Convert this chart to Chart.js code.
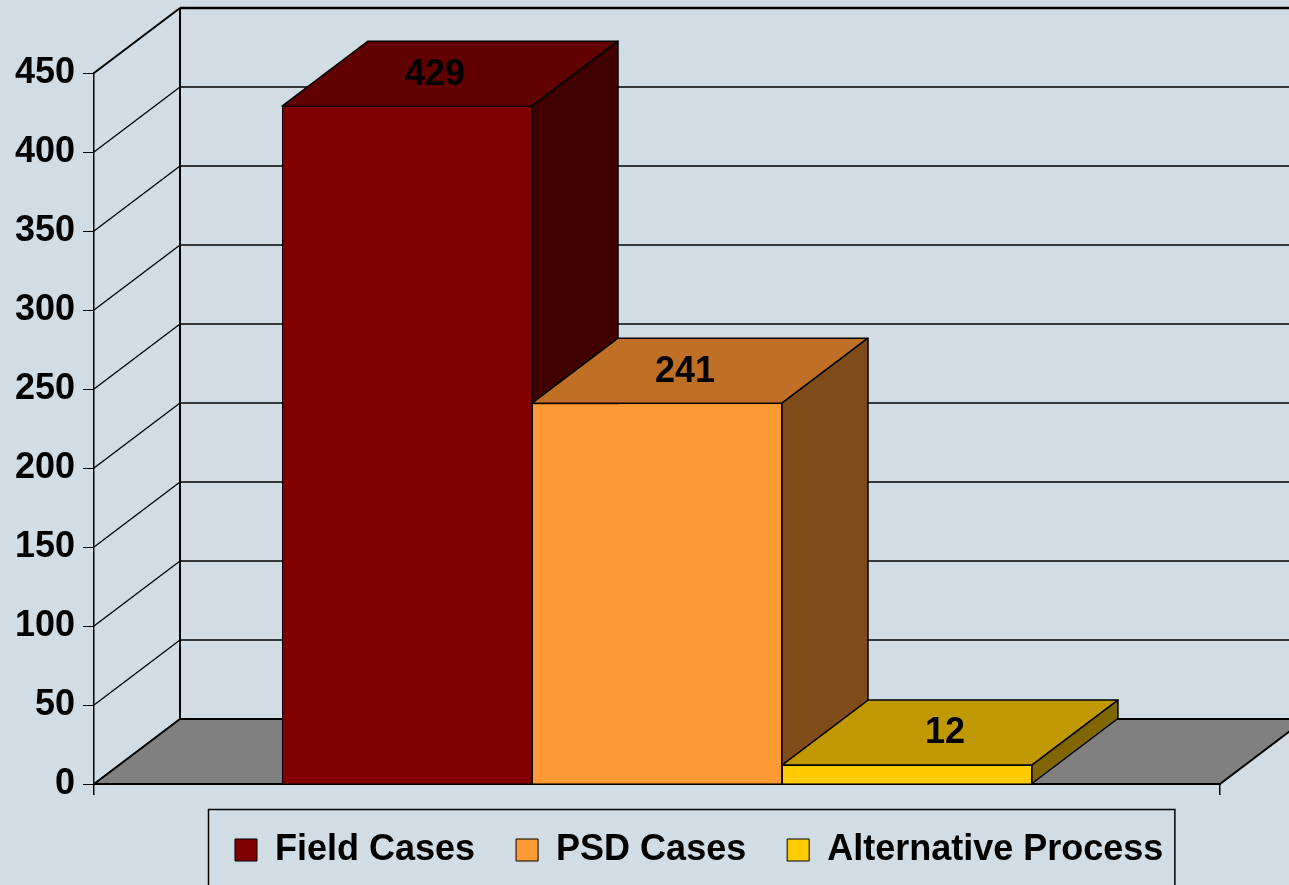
<!DOCTYPE html>
<html><head><meta charset="utf-8">
<script src="https://cdn.jsdelivr.net/npm/chart.js@4.4.1/dist/chart.umd.min.js"></script>
<style>
html,body{margin:0;padding:0;background:#D1DCE4;}
#wrap{width:1289px;height:885px;position:relative;}
</style></head><body>
<div id="wrap"><canvas id="c"></canvas></div>
<script>
const categories = [''];
const seriesNames = ['Field Cases', 'PSD Cases', 'Alternative Process'];
const fieldCases = [429];
const psdCases = [241];
const alternativeProcess = [12];
const yTicks = [0, 50, 100, 150, 200, 250, 300, 350, 400, 450];

const frontColors = ['#800000', '#FF9933', '#FFCC00'];
const topColors = ['#600000', '#C07026', '#C09900'];
const sideColors = ['#400000', '#804D1A', '#806600'];
const BG = '#D1DCE4';
const DX = 86, DY = -65;
const FONT = "'Liberation Sans', Arial, sans-serif";

function line(ctx, x1, y1, x2, y2) {
  ctx.beginPath(); ctx.moveTo(x1, y1); ctx.lineTo(x2, y2); ctx.stroke();
}
function poly(ctx, pts, fill, lw) {
  ctx.beginPath();
  pts.forEach((p, i) => i ? ctx.lineTo(p[0], p[1]) : ctx.moveTo(p[0], p[1]));
  ctx.closePath();
  ctx.fillStyle = fill; ctx.fill();
  ctx.lineWidth = lw; ctx.strokeStyle = '#000'; ctx.lineJoin = 'round'; ctx.stroke();
}

const threeD = {
  id: 'threeD',
  afterLayout(chart) {
    const lg = chart.legend;
    if (!lg || !lg.lineWidths) return;
    const pad = lg.options.labels.padding;
    const lw = lg.lineWidths[0];
    const x0 = (lg.left + pad + lg.right - lw) / 2;
    const sx = 235 - x0;
    lg.left += sx; lg.right += sx;
    const cy = lg.top + pad + 18;
    const sy = 850 - cy;
    lg.top += sy; lg.bottom += sy;
    lg._boxX0 = 235; lg._boxX1 = 235 + lw - pad;
  },
  beforeDraw(chart) {
    const ctx = chart.ctx;
    ctx.save(); ctx.fillStyle = BG; ctx.fillRect(0, 0, chart.width, chart.height); ctx.restore();
  },
  beforeDatasetsDraw(chart) {
    const { ctx, chartArea: a, scales: { y } } = chart;
    const top = yTicks[yTicks.length - 1];
    const y0 = y.getPixelForValue(0);
    ctx.save();
    ctx.strokeStyle = '#000';
    yTicks.forEach(v => {
      const py = y.getPixelForValue(v);
      ctx.lineWidth = v === top ? 2.5 : 1.5;
      line(ctx, a.left + DX, py + DY, a.right + DX, py + DY);
      ctx.lineWidth = v === top ? 2 : 1.3;
      line(ctx, a.left, py, a.left + DX, py + DY);
    });
    ctx.lineWidth = 2;
    line(ctx, a.left + DX, y.getPixelForValue(top) + DY, a.left + DX, y0 + DY);
    poly(ctx, [[a.left, y0], [a.left + DX, y0 + DY], [a.right + DX, y0 + DY], [a.right, y0]], '#808080', 2);
    ctx.restore();
  },
  afterDatasetsDraw(chart) {
    const ctx = chart.ctx;
    ctx.save();
    const labels = [];
    chart.data.datasets.forEach((ds, i) => {
      const meta = chart.getDatasetMeta(i);
      meta.data.forEach((bar, j) => {
        bar.draw(ctx);
        const p = bar.getProps(['x', 'y', 'base', 'width'], true);
        const l = p.x - p.width / 2, r = p.x + p.width / 2, t = p.y, b = p.base;
        poly(ctx, [[l, t], [l + DX, t + DY], [r + DX, t + DY], [r, t]], topColors[i], 1.5);
        poly(ctx, [[r, t], [r + DX, t + DY], [r + DX, b + DY], [r, b]], sideColors[i], 1.5);
        labels.push({ text: String(ds.data[j]), x: p.x + 58, y: t + DY / 2 + 1 });
      });
    });
    ctx.fillStyle = '#000';
    ctx.font = 'bold 36px ' + FONT;
    ctx.textAlign = 'right';
    ctx.textBaseline = 'middle';
    labels.forEach(L => ctx.fillText(L.text, L.x, L.y));
    ctx.restore();
  },
  afterDraw(chart) {
    const lg = chart.legend;
    if (!lg || lg._boxX0 === undefined) return;
    const ctx = chart.ctx;
    ctx.save();
    ctx.strokeStyle = '#000';
    ctx.lineWidth = 1.5;
    ctx.strokeRect(lg._boxX0 - 26.5, 809.5, (lg._boxX1 + 12) - (lg._boxX0 - 26), 120);
    ctx.restore();
  }
};

new Chart(document.getElementById('c'), {
  type: 'bar',
  data: {
    labels: categories,
    datasets: [
      { label: seriesNames[0], data: fieldCases, backgroundColor: frontColors[0], borderColor: '#000', borderWidth: 1 },
      { label: seriesNames[1], data: psdCases, backgroundColor: frontColors[1], borderColor: '#000', borderWidth: 1 },
      { label: seriesNames[2], data: alternativeProcess, backgroundColor: frontColors[2], borderColor: '#000', borderWidth: 1 }
    ]
  },
  options: {
    responsive: true,
    maintainAspectRatio: false,
    animation: false,
    events: [],
    categoryPercentage: 0.666,
    barPercentage: 1,
    layout: { padding: { top: 73, right: 69, left: 0, bottom: 2 } },
    scales: {
      x: {
        afterFit(s) { s.height = 12; },
        ticks: { display: false },
        grid: { drawOnChartArea: false, drawTicks: true, tickLength: 11, color: '#000', lineWidth: 1.5 },
        border: { display: true, color: '#000', width: 2 }
      },
      y: {
        min: 0, max: 450,
        afterFit(s) { s.width = 94; },
        afterBuildTicks(s) { s.ticks = yTicks.map(v => ({ value: v })); },
        ticks: { font: { family: FONT, size: 36, weight: 'bold' }, color: '#000', padding: 8 },
        grid: { drawOnChartArea: false, drawTicks: true, tickLength: 11, color: '#000', lineWidth: 1 },
        border: { display: true, color: '#000', width: 1.5 }
      }
    },
    plugins: {
      tooltip: { enabled: false },
      legend: {
        position: 'bottom',
        labels: {
          font: { family: FONT, size: 36, weight: 'bold' },
          color: '#000',
          boxWidth: 22,
          boxHeight: 22,
          padding: 41
        }
      }
    }
  },
  plugins: [threeD]
});
</script>
</body></html>
